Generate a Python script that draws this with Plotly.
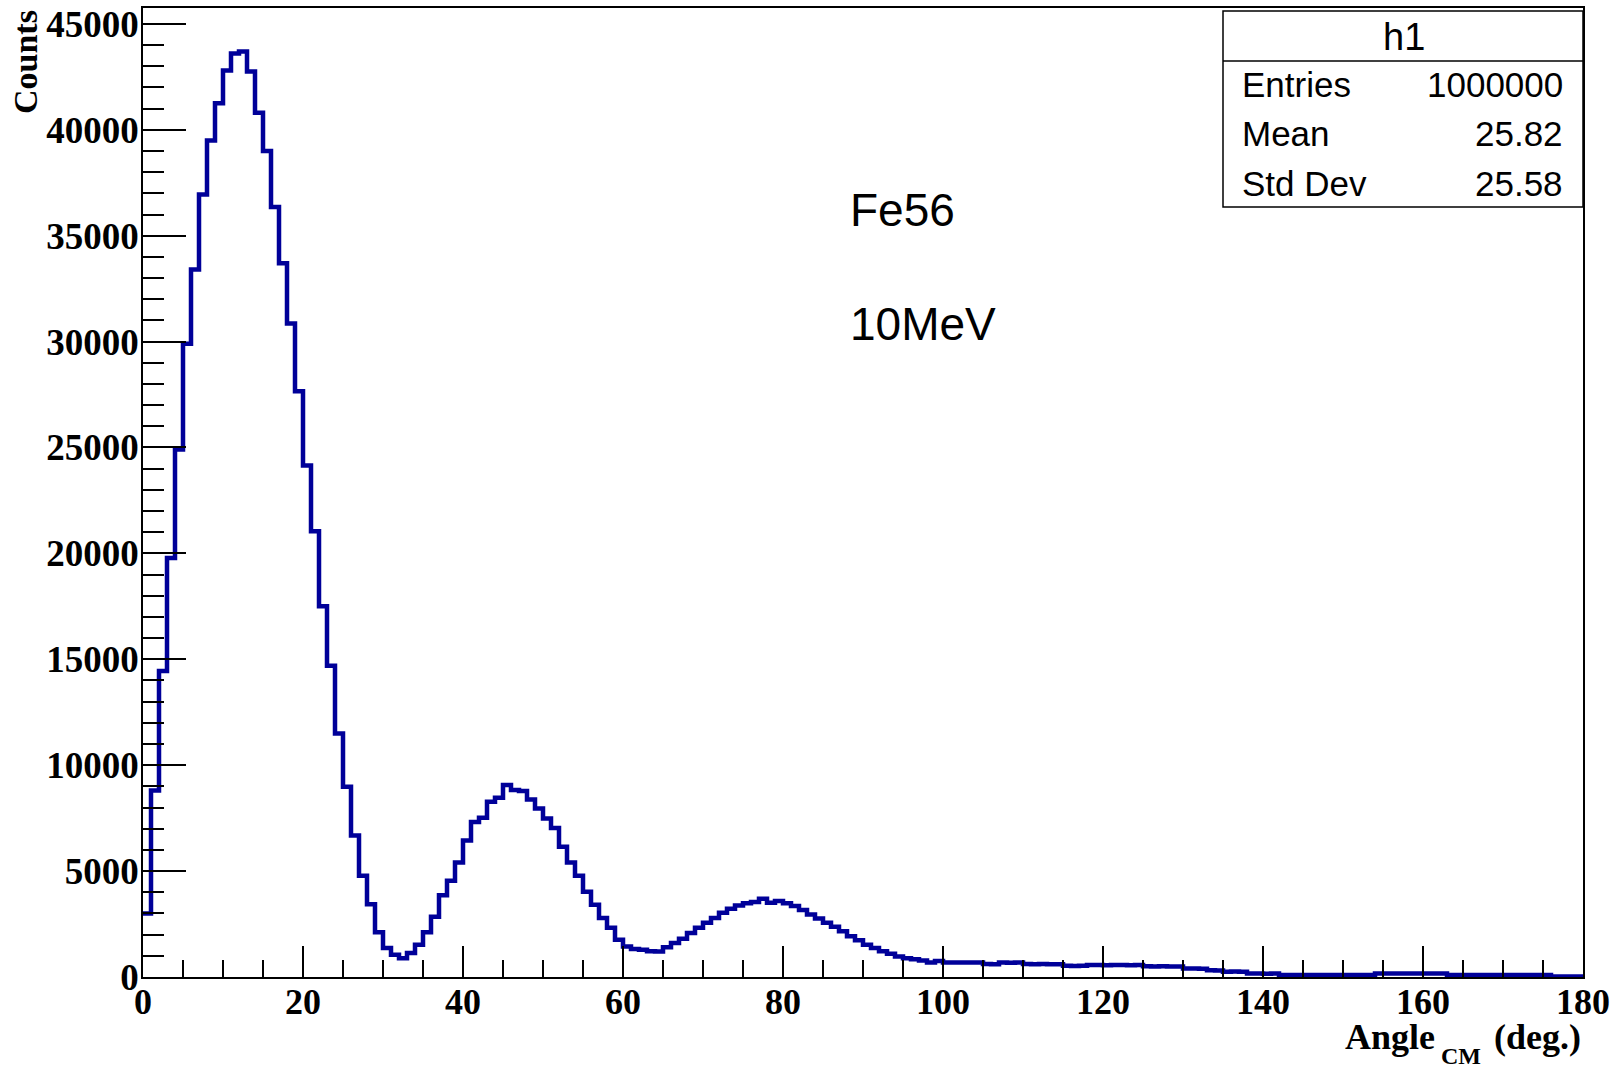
import plotly.graph_objects as go

# ---- data (1-degree bins from 0 to 180) ----
bin_low = 0
bin_high = 180

counts_peak1 = [3000, 8800, 14450, 19780, 24900, 29900, 33400, 36950, 39500, 41250,
                42800, 43600, 43700, 42750, 40800, 39000, 36350, 33700, 30850, 27650,
                24150, 21050, 17500, 14700, 11500, 8980, 6680, 4780, 3430, 2110]
counts_peak2 = [1365, 1050, 890, 1130, 1520, 2110, 2840, 3860, 4540, 5410,
                6440, 7320, 7520, 8270, 8460, 9060, 8830, 8780, 8380, 7950,
                7480, 7030, 6150, 5410, 4780, 4020, 3410, 2790, 2320, 1760,
                1445, 1320, 1290, 1210, 1200]
counts_peak3 = [1410, 1600, 1810, 2080, 2320, 2560, 2790, 3030, 3220, 3380,
                3480, 3540, 3700, 3510, 3590, 3480, 3350, 3160, 2950, 2760,
                2560, 2370, 2160, 1920, 1730, 1520, 1370, 1210, 1100, 970,
                890, 840, 780, 690, 760]
counts_tail = [690, 680, 690, 680, 680, 610, 600, 680, 670, 680,
               610, 600, 610, 600, 600, 530, 520, 530, 570, 570,
               560, 570, 570, 560, 570, 510, 500, 510, 500, 500,
               400, 400, 390, 320, 310, 250, 260, 250, 160, 160,
               150, 160, 95, 95, 95, 95, 95, 95, 95, 95,
               95, 95, 95, 95, 160, 160, 160, 160, 160, 160,
               160, 160, 160, 95, 95, 95, 95, 95, 95, 95,
               95, 95, 95, 95, 95, 95, 20, 20, 20, 20]

stats_title = "h1"
stats_labels = ["Entries", "Mean", "Std Dev"]
stats_values = ["1000000", "25.82", "25.58"]
labels_text = ["Fe56", "10MeV"]

counts = counts_peak1 + counts_peak2 + counts_peak3 + counts_tail
edges = list(range(bin_low, bin_high + 1))

# ---- figure geometry (pixels) ----
W, H = 1622, 1072
L, R, T, B = 143, 1583, 8, 977


def px(x):
    return (x - L) / (R - L)


def py(y):
    return (B - y) / (B - T)


serif = "Liberation Serif"
sans = "Liberation Sans"

fig = go.Figure()
fig.add_trace(go.Scatter(
    x=edges,
    y=counts + [counts[-1]],
    mode="lines",
    line=dict(shape="hv", color="#000099", width=4.5),
    showlegend=False,
    hoverinfo="skip",
))

fig.update_layout(
    width=W, height=H,
    margin=dict(l=L, r=W - R, t=T, b=H - B, autoexpand=False),
    paper_bgcolor="white", plot_bgcolor="white",
    showlegend=False,
)

fig.update_xaxes(
    range=[0, 180], showgrid=False, zeroline=False,
    showline=True, linecolor="black", linewidth=1.5, mirror=True,
    ticks="inside", ticklen=31, tickwidth=1.5, tickcolor="black",
    tick0=0, dtick=20,
    minor=dict(ticks="inside", ticklen=17, tickwidth=1.5, tickcolor="black", dtick=5, showgrid=False),
    tickfont=dict(family=serif, size=36, color="black", weight="bold"),
    ticklabelstandoff=-8,
)
fig.update_yaxes(
    range=[0, 45750], showgrid=False, zeroline=False,
    showline=True, linecolor="black", linewidth=1.5, mirror=True,
    ticks="inside", ticklen=43, tickwidth=1.5, tickcolor="black",
    tick0=0, dtick=5000, tickformat="d",
    minor=dict(ticks="inside", ticklen=21, tickwidth=1.5, tickcolor="black", dtick=1000, showgrid=False),
    tickfont=dict(family=serif, size=37, color="black", weight="bold"),
    ticklabelstandoff=-5,
)

ann = []
# axis titles
ann.append(dict(text="<b>Counts</b>", xref="paper", yref="paper", x=px(25), y=py(8),
                xanchor="center", yanchor="top", textangle=-90, showarrow=False,
                font=dict(family=serif, size=34, color="black")))
ann.append(dict(text="<b>Angle</b>", xref="paper", yref="paper",
                x=px(1343), y=py(1015), xanchor="left", yanchor="top", showarrow=False,
                font=dict(family=serif, size=36, color="black")))
ann.append(dict(text="<b>CM</b>", xref="paper", yref="paper",
                x=px(1439), y=py(1071), xanchor="left", yanchor="bottom", showarrow=False,
                font=dict(family=serif, size=24, color="black")))
ann.append(dict(text="<b>(deg.)</b>", xref="paper", yref="paper",
                x=px(1583), y=py(1015), xanchor="right", yanchor="top", showarrow=False,
                font=dict(family=serif, size=36, color="black")))
# labels on plot
ann.append(dict(text=labels_text[0], xref="paper", yref="paper", x=px(848), y=py(210),
                xanchor="left", yanchor="middle", showarrow=False,
                font=dict(family=sans, size=46, color="black")))
ann.append(dict(text=labels_text[1], xref="paper", yref="paper", x=px(848), y=py(324),
                xanchor="left", yanchor="middle", showarrow=False,
                font=dict(family=sans, size=46, color="black")))
# stats box
ann.append(dict(text=stats_title, xref="paper", yref="paper", x=px(1404), y=py(37),
                xanchor="center", yanchor="middle", showarrow=False,
                font=dict(family=sans, size=38, color="black")))
row_y = [85, 133, 183]
for lab, val, yy in zip(stats_labels, stats_values, row_y):
    ann.append(dict(text=lab, xref="paper", yref="paper", x=px(1240), y=py(yy),
                    xanchor="left", yanchor="middle", showarrow=False,
                    font=dict(family=sans, size=35, color="black")))
    ann.append(dict(text=val, xref="paper", yref="paper", x=px(1565), y=py(yy),
                    xanchor="right", yanchor="middle", showarrow=False,
                    font=dict(family=sans, size=35, color="black")))
fig.update_layout(annotations=ann)

fig.add_shape(type="rect", xref="paper", yref="paper",
              x0=px(1223), x1=px(1583), y0=py(207), y1=py(11),
              line=dict(color="black", width=1.5), fillcolor="white", layer="above")
fig.add_shape(type="line", xref="paper", yref="paper",
              x0=px(1223), x1=px(1583), y0=py(61), y1=py(61),
              line=dict(color="black", width=1.5), layer="above")

fig.write_html("out.html")
